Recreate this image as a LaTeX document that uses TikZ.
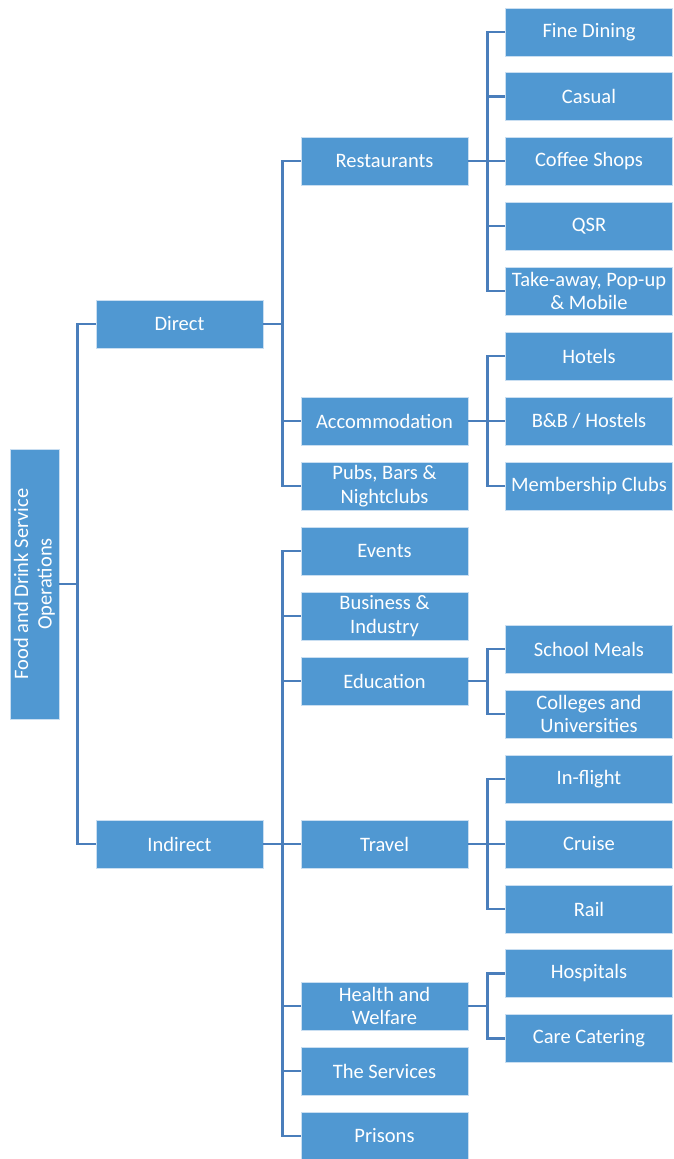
\documentclass[tikz,border=0pt]{standalone}
\usepackage{fontspec}
\setmainfont{Carlito}
\begin{document}
\begin{tikzpicture}[x=1pt,y=-1pt,
  box/.style={draw=boxedge, line width=0.6pt, fill=boxblue, text=white,
    inner sep=1pt, minimum width=167pt, minimum height=48pt, align=center,
    font=\fontsize{20.5}{23.5}\selectfont},
  link/.style={draw=lineblue, line width=2.8pt}]
\definecolor{boxblue}{HTML}{5098D2}
\definecolor{boxedge}{HTML}{C9DEF1}
\definecolor{lineblue}{HTML}{4A7EBB}
\useasboundingbox (0,0) rectangle (674,1159);

% root
\node[box, minimum width=49pt, minimum height=270pt] (root) at (34.5,584) {};
\node[rotate=90, text=white, align=center, font=\fontsize{20.5}{23.5}\selectfont] (roottxt) at (root.center) {Food and Drink Service\\Operations};

% first level
\node[box] (direct) at (179.5,324) {Direct};
\node[box] (indirect) at (179.5,844) {Indirect};

% second level
\node[box] (rest) at (384.5,161) {Restaurants};
\node[box] (accom) at (384.5,421) {Accommodation};
\node[box] (pubs) at (384.5,486) {Pubs, Bars \&\\Nightclubs};
\node[box] (events) at (384.5,551) {Events};
\node[box] (business) at (384.5,616) {Business \&\\Industry};
\node[box] (edu) at (384.5,681) {Education};
\node[box] (travel) at (384.5,844) {Travel};
\node[box] (health) at (384.5,1006) {Health and\\Welfare};
\node[box] (services) at (384.5,1071) {The Services};
\node[box] (prisons) at (384.5,1136) {Prisons};

% third level
\node[box] (fine) at (589,32) {Fine Dining};
\node[box] (casual) at (589,96.5) {Casual};
\node[box] (coffee) at (589,161) {Coffee Shops};
\node[box] (qsr) at (589,226) {QSR};
\node[box] (take) at (589,291) {Take-away, Pop-up\\\& Mobile};
\node[box] (hotels) at (589,356) {Hotels};
\node[box] (bnb) at (589,421) {B\&B / Hostels};
\node[box] (clubs) at (589,486) {Membership Clubs};
\node[box] (school) at (589,649) {School Meals};
\node[box] (colleges) at (589,714) {Colleges and\\Universities};
\node[box] (flight) at (589,779) {In-flight};
\node[box] (cruise) at (589,844) {Cruise};
\node[box] (rail) at (589,909) {Rail};
\node[box] (hosp) at (589,973.5) {Hospitals};
\node[box] (care) at (589,1038.5) {Care Catering};

% connectors
\draw[link] (root.east) -- ++(18,0) coordinate (jr);
\foreach \c in {direct,indirect} \draw[link] (jr) |- (\c.west);

\draw[link] (direct.east) -- ++(19,0) coordinate (jd);
\foreach \c in {rest,accom,pubs} \draw[link] (jd) |- (\c.west);

\draw[link] (indirect.east) -- ++(19,0) coordinate (ji);
\foreach \c in {events,business,edu,travel,health,services,prisons} \draw[link] (ji) |- (\c.west);

\draw[link] (rest.east) -- ++(19,0) coordinate (jrest);
\foreach \c in {fine,casual,coffee,qsr,take} \draw[link] (jrest) |- (\c.west);

\draw[link] (accom.east) -- ++(19,0) coordinate (jacc);
\foreach \c in {hotels,bnb,clubs} \draw[link] (jacc) |- (\c.west);

\draw[link] (edu.east) -- ++(19,0) coordinate (jedu);
\foreach \c in {school,colleges} \draw[link] (jedu) |- (\c.west);

\draw[link] (travel.east) -- ++(19,0) coordinate (jtr);
\foreach \c in {flight,cruise,rail} \draw[link] (jtr) |- (\c.west);

\draw[link] (health.east) -- ++(19,0) coordinate (jh);
\foreach \c in {hosp,care} \draw[link] (jh) |- (\c.west);
\end{tikzpicture}
\end{document}
